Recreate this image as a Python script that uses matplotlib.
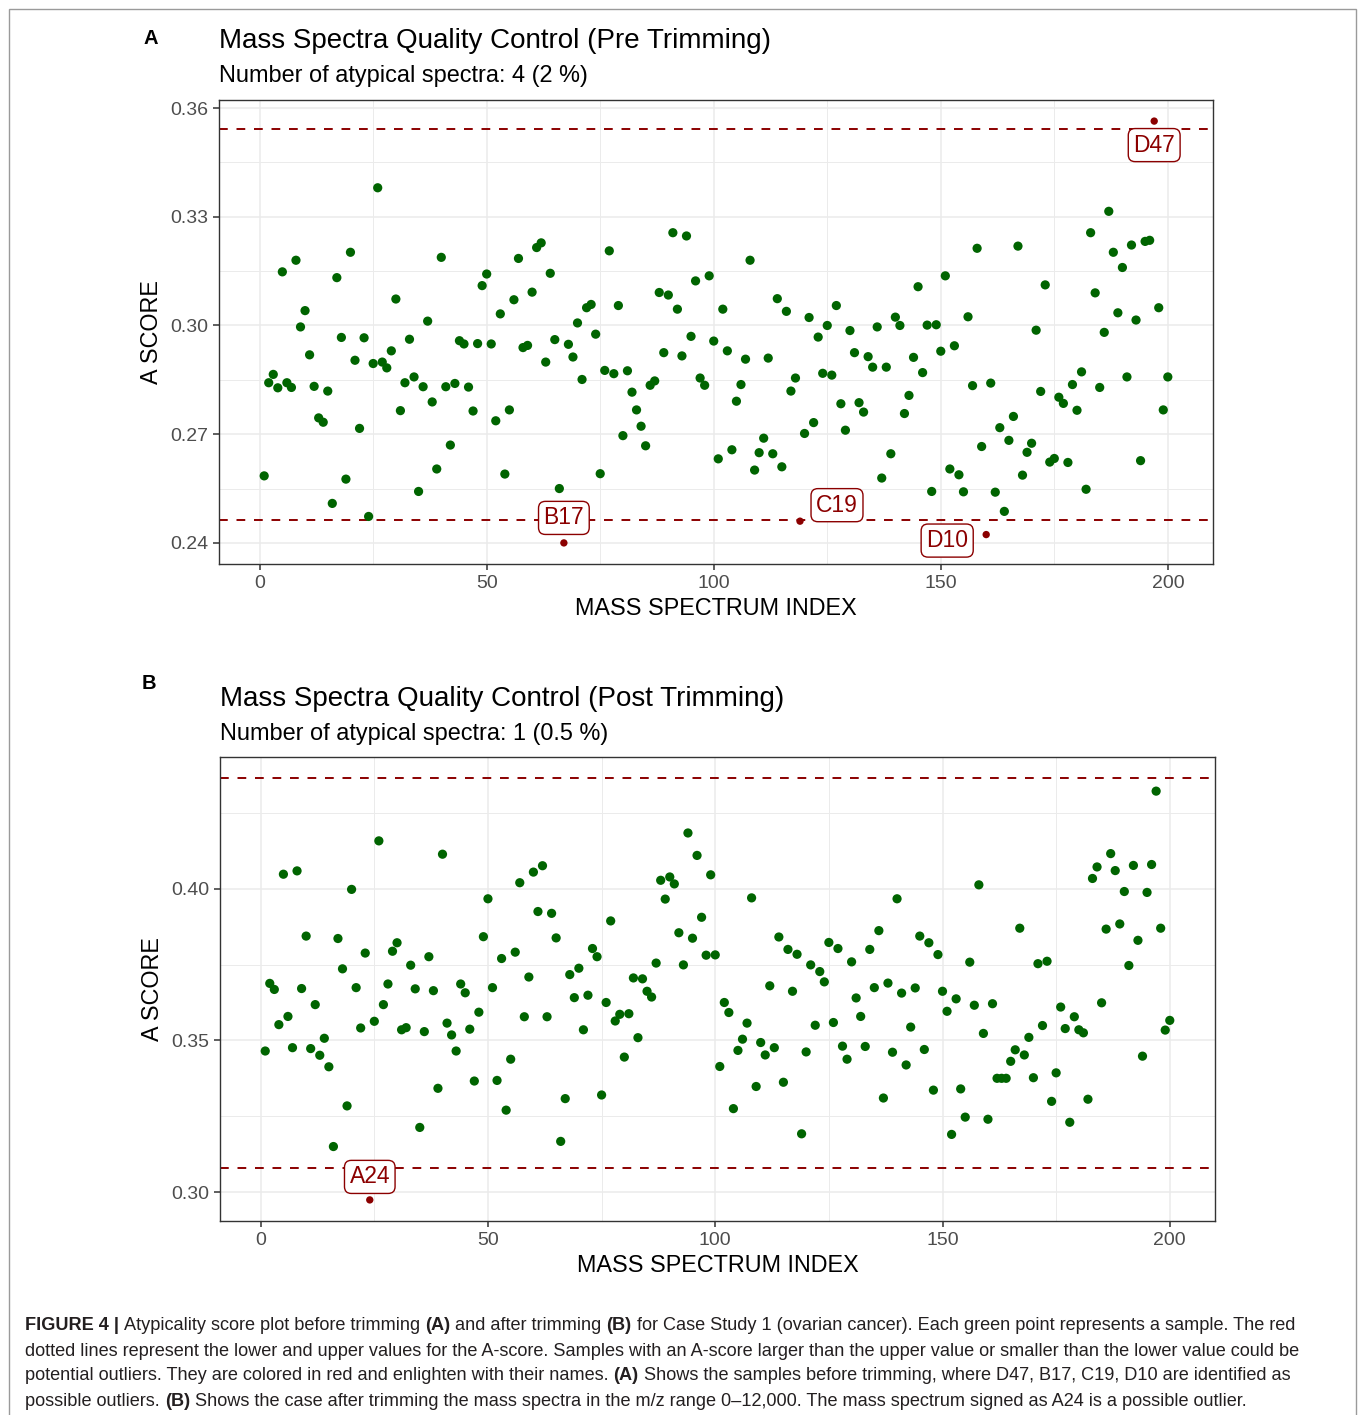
import matplotlib
matplotlib.use("Agg")
import matplotlib.pyplot as plt
from matplotlib.patches import Rectangle

plt.rcParams['font.family'] = ['Liberation Sans', 'DejaVu Sans']

# ---------------- data ----------------
index = list(range(1, 201))

score_pre = [
    0.2585, 0.2842, 0.2865, 0.2828, 0.3148, 0.2842, 0.2829, 0.3180, 0.2996, 0.3041,
    0.2919, 0.2832, 0.2745, 0.2733, 0.2819, 0.2509, 0.3132, 0.2967, 0.2576, 0.3202,
    0.2904, 0.2716, 0.2966, 0.2473, 0.2895, 0.3380, 0.2899, 0.2883, 0.2930, 0.3073,
    0.2765, 0.2842, 0.2962, 0.2858, 0.2542, 0.2831, 0.3012, 0.2789, 0.2604, 0.3188,
    0.2831, 0.2670, 0.2840, 0.2958, 0.2949, 0.2830, 0.2764, 0.2950, 0.3110, 0.3142,
    0.2949, 0.2737, 0.3032, 0.2590, 0.2767, 0.3071, 0.3185, 0.2939, 0.2945, 0.3092,
    0.3215, 0.3228, 0.2899, 0.3144, 0.2961, 0.2550, 0.2400, 0.2948, 0.2913, 0.3007,
    0.2851, 0.3049, 0.3058, 0.2976, 0.2591, 0.2876, 0.3206, 0.2867, 0.3055, 0.2696,
    0.2875, 0.2816, 0.2767, 0.2722, 0.2668, 0.2835, 0.2847, 0.3091, 0.2925, 0.3084,
    0.3256, 0.3045, 0.2916, 0.3247, 0.2970, 0.3123, 0.2855, 0.2835, 0.3137, 0.2957,
    0.2632, 0.3045, 0.2930, 0.2657, 0.2791, 0.2837, 0.2907, 0.3180, 0.2601, 0.2649,
    0.2689, 0.2910, 0.2646, 0.3074, 0.2610, 0.3039, 0.2819, 0.2855, 0.2460, 0.2702,
    0.3022, 0.2732, 0.2968, 0.2868, 0.3000, 0.2863, 0.3055, 0.2784, 0.2711, 0.2986,
    0.2925, 0.2787, 0.2761, 0.2914, 0.2885, 0.2996, 0.2579, 0.2885, 0.2646, 0.3023,
    0.3000, 0.2757, 0.2807, 0.2912, 0.3107, 0.2870, 0.3001, 0.2542, 0.3002, 0.2929,
    0.3137, 0.2604, 0.2944, 0.2588, 0.2541, 0.3024, 0.2834, 0.3213, 0.2666, 0.2423,
    0.2841, 0.2540, 0.2718, 0.2487, 0.2683, 0.2749, 0.3219, 0.2587, 0.2650, 0.2675,
    0.2987, 0.2818, 0.3112, 0.2623, 0.2633, 0.2802, 0.2785, 0.2622, 0.2837, 0.2766,
    0.2872, 0.2548, 0.3256, 0.3090, 0.2829, 0.2981, 0.3315, 0.3202, 0.3035, 0.3160,
    0.2858, 0.3222, 0.3015, 0.2627, 0.3232, 0.3235, 0.3564, 0.3049, 0.2767, 0.2858,
]

score_post = [
    0.3465, 0.3688, 0.3668, 0.3552, 0.4048, 0.3579, 0.3476, 0.4059, 0.3671, 0.3844,
    0.3473, 0.3618, 0.3451, 0.3507, 0.3413, 0.3150, 0.3836, 0.3736, 0.3284, 0.3998,
    0.3674, 0.3541, 0.3788, 0.2974, 0.3563, 0.4158, 0.3618, 0.3686, 0.3794, 0.3822,
    0.3535, 0.3542, 0.3748, 0.3670, 0.3213, 0.3529, 0.3776, 0.3664, 0.3342, 0.4114,
    0.3557, 0.3518, 0.3465, 0.3686, 0.3657, 0.3537, 0.3366, 0.3593, 0.3842, 0.3967,
    0.3674, 0.3368, 0.3770, 0.3270, 0.3438, 0.3791, 0.4020, 0.3578, 0.3709, 0.4055,
    0.3925, 0.4076, 0.3578, 0.3919, 0.3838, 0.3167, 0.3308, 0.3717, 0.3641, 0.3738,
    0.3535, 0.3649, 0.3803, 0.3776, 0.3320, 0.3625, 0.3894, 0.3564, 0.3586, 0.3445,
    0.3588, 0.3706, 0.3509, 0.3703, 0.3662, 0.3643, 0.3755, 0.4028, 0.3966, 0.4039,
    0.4016, 0.3855, 0.3749, 0.4184, 0.3837, 0.4110, 0.3906, 0.3781, 0.4046, 0.3782,
    0.3414, 0.3625, 0.3592, 0.3275, 0.3467, 0.3504, 0.3557, 0.3970, 0.3348, 0.3493,
    0.3452, 0.3680, 0.3476, 0.3841, 0.3362, 0.3800, 0.3662, 0.3784, 0.3192, 0.3462,
    0.3749, 0.3550, 0.3727, 0.3693, 0.3823, 0.3559, 0.3803, 0.3481, 0.3438, 0.3759,
    0.3640, 0.3579, 0.3480, 0.3800, 0.3674, 0.3862, 0.3310, 0.3689, 0.3461, 0.3967,
    0.3656, 0.3419, 0.3544, 0.3673, 0.3844, 0.3470, 0.3822, 0.3336, 0.3783, 0.3662,
    0.3596, 0.3190, 0.3637, 0.3340, 0.3247, 0.3758, 0.3616, 0.4013, 0.3523, 0.3240,
    0.3621, 0.3375, 0.3375, 0.3375, 0.3431, 0.3469, 0.3870, 0.3452, 0.3510, 0.3377,
    0.3753, 0.3549, 0.3761, 0.3299, 0.3393, 0.3610, 0.3539, 0.3230, 0.3578, 0.3535,
    0.3525, 0.3306, 0.4034, 0.4072, 0.3624, 0.3867, 0.4116, 0.4060, 0.3884, 0.3991,
    0.3747, 0.4077, 0.3830, 0.3448, 0.3988, 0.4080, 0.4322, 0.3870, 0.3534, 0.3566,
]

lower_pre, upper_pre = 0.2463, 0.3541
lower_post, upper_post = 0.3078, 0.4365

outlier_idx_pre = [67, 119, 160, 197]
outlier_names_pre = ["B17", "C19", "D10", "D47"]
outlier_idx_post = [24]
outlier_names_post = ["A24"]

title_pre = "Mass Spectra Quality Control (Pre Trimming)"
subtitle_pre = "Number of atypical spectra: 4 (2 %)"
title_post = "Mass Spectra Quality Control (Post Trimming)"
subtitle_post = "Number of atypical spectra: 1 (0.5 %)"

yticks_pre = [0.24, 0.27, 0.30, 0.33, 0.36]
yticklabels_pre = ["0.24", "0.27", "0.30", "0.33", "0.36"]
yticks_post = [0.30, 0.35, 0.40]
yticklabels_post = ["0.30", "0.35", "0.40"]
xticks = [0, 50, 100, 150, 200]

# label offsets (pixels) for repelled labels
label_offsets_pre = {"B17": (0, 25), "C19": (37, 16), "D10": (-39, -6), "D47": (0, -24)}
label_offsets_post = {"A24": (0, 23)}

# ---------------- figure ----------------
W, H = 1358, 1415
fig = plt.figure(figsize=(W / 100, H / 100), dpi=100)
renderer = fig.canvas.get_renderer()

GREEN = "#006400"
RED = "#8B0000"
GRID = "#EBEBEB"
BORDER = "#333333"


def px(x, y):
    return x / W, 1 - y / H


def fit_size(s, target_w, weight="normal", base=20):
    t = fig.text(0, 0, s, fontsize=base, fontweight=weight)
    w = t.get_window_extent(renderer).width
    t.remove()
    return base * target_w / w


def draw_panel(rect, scores, lower, upper, out_idx, out_names, offsets,
               yticks, yticklabels):
    ax = fig.add_axes(rect)
    normal_x = [i for i in index if i not in out_idx]
    normal_y = [scores[i - 1] for i in normal_x]
    out_y = [scores[i - 1] for i in out_idx]
    ax.axhline(upper, color=RED, lw=1.4, dashes=(4.5, 4.5), zorder=2)
    ax.axhline(lower, color=RED, lw=1.4, dashes=(4.5, 4.5), zorder=2)
    ax.scatter(normal_x, normal_y, s=44, c=GREEN, edgecolors="none", zorder=3)
    ax.scatter(out_idx, out_y, s=28, c=RED, edgecolors="none", zorder=3)
    for i, name, yv in zip(out_idx, out_names, out_y):
        ax.annotate(name, xy=(i, yv), xytext=offsets[name], textcoords="offset pixels",
                    ha="center", va="center", fontsize=16.5, color=RED, zorder=4,
                    bbox=dict(boxstyle="round,pad=0.22,rounding_size=0.3",
                              fc="white", ec=RED, lw=1.0))
    lo = min(min(scores), lower)
    hi = max(max(scores), upper)
    pad = 0.05 * (hi - lo)
    xpad = 0.05 * (index[-1] - index[0])
    ax.set_xlim(index[0] - xpad, index[-1] + xpad)
    ax.set_xticks(xticks)
    ax.set_xticks([25, 75, 125, 175], minor=True)
    ax.set_yticks(yticks)
    ax.set_yticklabels(yticklabels)
    step = yticks[1] - yticks[0]
    ymin_minor = [yticks[0] - step / 2] + \
        [(yticks[k] + yticks[k + 1]) / 2 for k in range(len(yticks) - 1)] + \
        [yticks[-1] + step / 2]
    ax.set_yticks(ymin_minor, minor=True)
    ax.set_ylim(lo - pad, hi + pad)
    ax.set_axisbelow(True)
    ax.grid(which="major", color=GRID, lw=1.1)
    ax.grid(which="minor", color=GRID, lw=0.7)
    ax.tick_params(which="minor", length=0)
    ax.tick_params(which="major", length=4.3, width=1.1, color=BORDER,
                   labelsize=14, labelcolor="#4D4D4D", pad=3.5)
    for sp in ax.spines.values():
        sp.set_color(BORDER)
        sp.set_linewidth(1.0)
    ax.set_xlabel("MASS SPECTRUM INDEX", fontsize=16.8, color="black", labelpad=3.5)
    ax.set_ylabel("A SCORE", fontsize=16.8, color="black", labelpad=5)
    return ax


rectA = [219 / W, 1 - 564 / H, 994 / W, 464 / H]
rectB = [220 / W, 1 - 1221 / H, 995 / W, 464 / H]

axA = draw_panel(rectA, score_pre, lower_pre, upper_pre, outlier_idx_pre,
                 outlier_names_pre, label_offsets_pre, yticks_pre, yticklabels_pre)
axB = draw_panel(rectB, score_post, lower_post, upper_post, outlier_idx_post,
                 outlier_names_post, label_offsets_post, yticks_post, yticklabels_post)

# titles
tsize = fit_size(title_pre, 551)
ssize = fit_size(subtitle_pre, 368)
fig.text(*px(219, 41), title_pre, fontsize=tsize, ha="left", va="center", color="black")
fig.text(*px(219, 76), subtitle_pre, fontsize=ssize, ha="left", va="center", color="black")
fig.text(*px(220, 699), title_post, fontsize=tsize, ha="left", va="center", color="black")
fig.text(*px(220, 734), subtitle_post, fontsize=ssize, ha="left", va="center", color="black")
fig.text(*px(143, 38), "A", fontsize=14.5, fontweight="bold", ha="left", va="center")
fig.text(*px(142, 684), "B", fontsize=14.5, fontweight="bold", ha="left", va="center")

# outer border
fig.add_artist(Rectangle(px(9, 1430), (1356 - 9) / W, (1430 - 9) / H,
                         transform=fig.transFigure, fill=False, ec="#9A9A9A", lw=1.0))

# caption
cap_lines = [
    [("FIGURE 4 | ", True), ("Atypicality score plot before trimming ", False), ("(A)", True),
     (" and after trimming ", False), ("(B)", True),
     (" for Case Study 1 (ovarian cancer). Each green point represents a sample. The red", False)],
    [("dotted lines represent the lower and upper values for the A-score. Samples with an A-score "
      "larger than the upper value or smaller than the lower value could be", False)],
    [("potential outliers. They are colored in red and enlighten with their names. ", False),
     ("(A)", True),
     (" Shows the samples before trimming, where D47, B17, C19, D10 are identified as", False)],
    [("possible outliers. ", False), ("(B)", True),
     (" Shows the case after trimming the mass spectra in the m/z range 0\u201312,000. "
      "The mass spectrum signed as A24 is a possible outlier.", False)],
]
cap_size = fit_size(cap_lines[1][0][0], 1277)


def run_width(s, bold, size):
    t1 = fig.text(0, 0, "|" + s + "|", fontsize=size, fontweight="bold" if bold else "normal")
    t2 = fig.text(0, 0, "||", fontsize=size, fontweight="bold" if bold else "normal")
    w = t1.get_window_extent(renderer).width - t2.get_window_extent(renderer).width
    t1.remove()
    t2.remove()
    return w


cap_y = [1325, 1351, 1376, 1401]
for line, yy in zip(cap_lines, cap_y):
    x = 25.0
    for s, bold in line:
        fig.text(*px(x, yy), s, fontsize=cap_size, fontweight="bold" if bold else "normal",
                 ha="left", va="center", color="#231F20")
        x += run_width(s, bold, cap_size)

fig.savefig("out.png", dpi=100)
